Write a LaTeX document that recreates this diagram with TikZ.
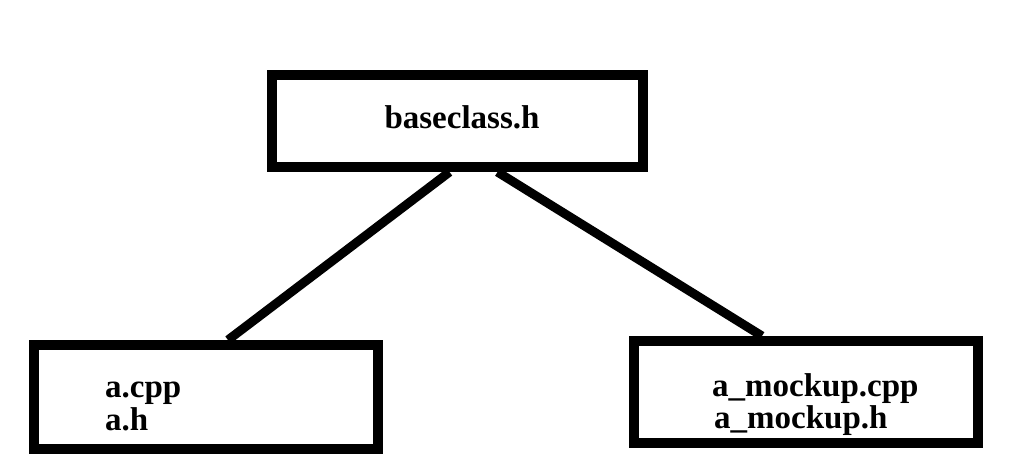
\documentclass[tikz,border=0pt]{standalone}
\usepackage{fontspec}
\setmainfont{Liberation Serif}
\usetikzlibrary{positioning,calc}
\definecolor{Ink}{HTML}{000000}
\tikzset{filebox/.style={draw=Ink,line width=10pt,inner sep=0pt,rectangle},link/.style={draw=Ink,line width=9pt},fname/.style={font=\fontsize{33}{33}\selectfont\bfseries,text=Ink,inner sep=0pt}}

\begin{document}
\begin{tikzpicture}[x=1pt,y=-1pt]
\useasboundingbox (0,0) rectangle (1027,472);
\node[filebox,minimum width=371pt,minimum height=92pt] (base) at (457.5,121) {};
\node[filebox,minimum width=344pt,minimum height=104pt] (impl) at (206,397) {};
\node[filebox,minimum width=344pt,minimum height=102pt] (mock) at (806,392) {};
\node[fname,anchor=base] (basename) at (462,128) {baseclass.h};
\node[fname,anchor=base west] (implcpp) at (105,397) {a.cpp};
\node[fname,anchor=base west] (implh) at (105,430) {a.h};
\node[fname,anchor=base west] (mockcpp) at (712,396) {a\_mockup.cpp};
\node[fname,anchor=base west] (mockh) at (714,428) {a\_mockup.h};
\draw[link] ([xshift=-8pt]base.south)--([xshift=22pt]impl.north);\draw[link] ([xshift=40pt]base.south)--([xshift=-44pt]mock.north);
\end{tikzpicture}
\end{document}
